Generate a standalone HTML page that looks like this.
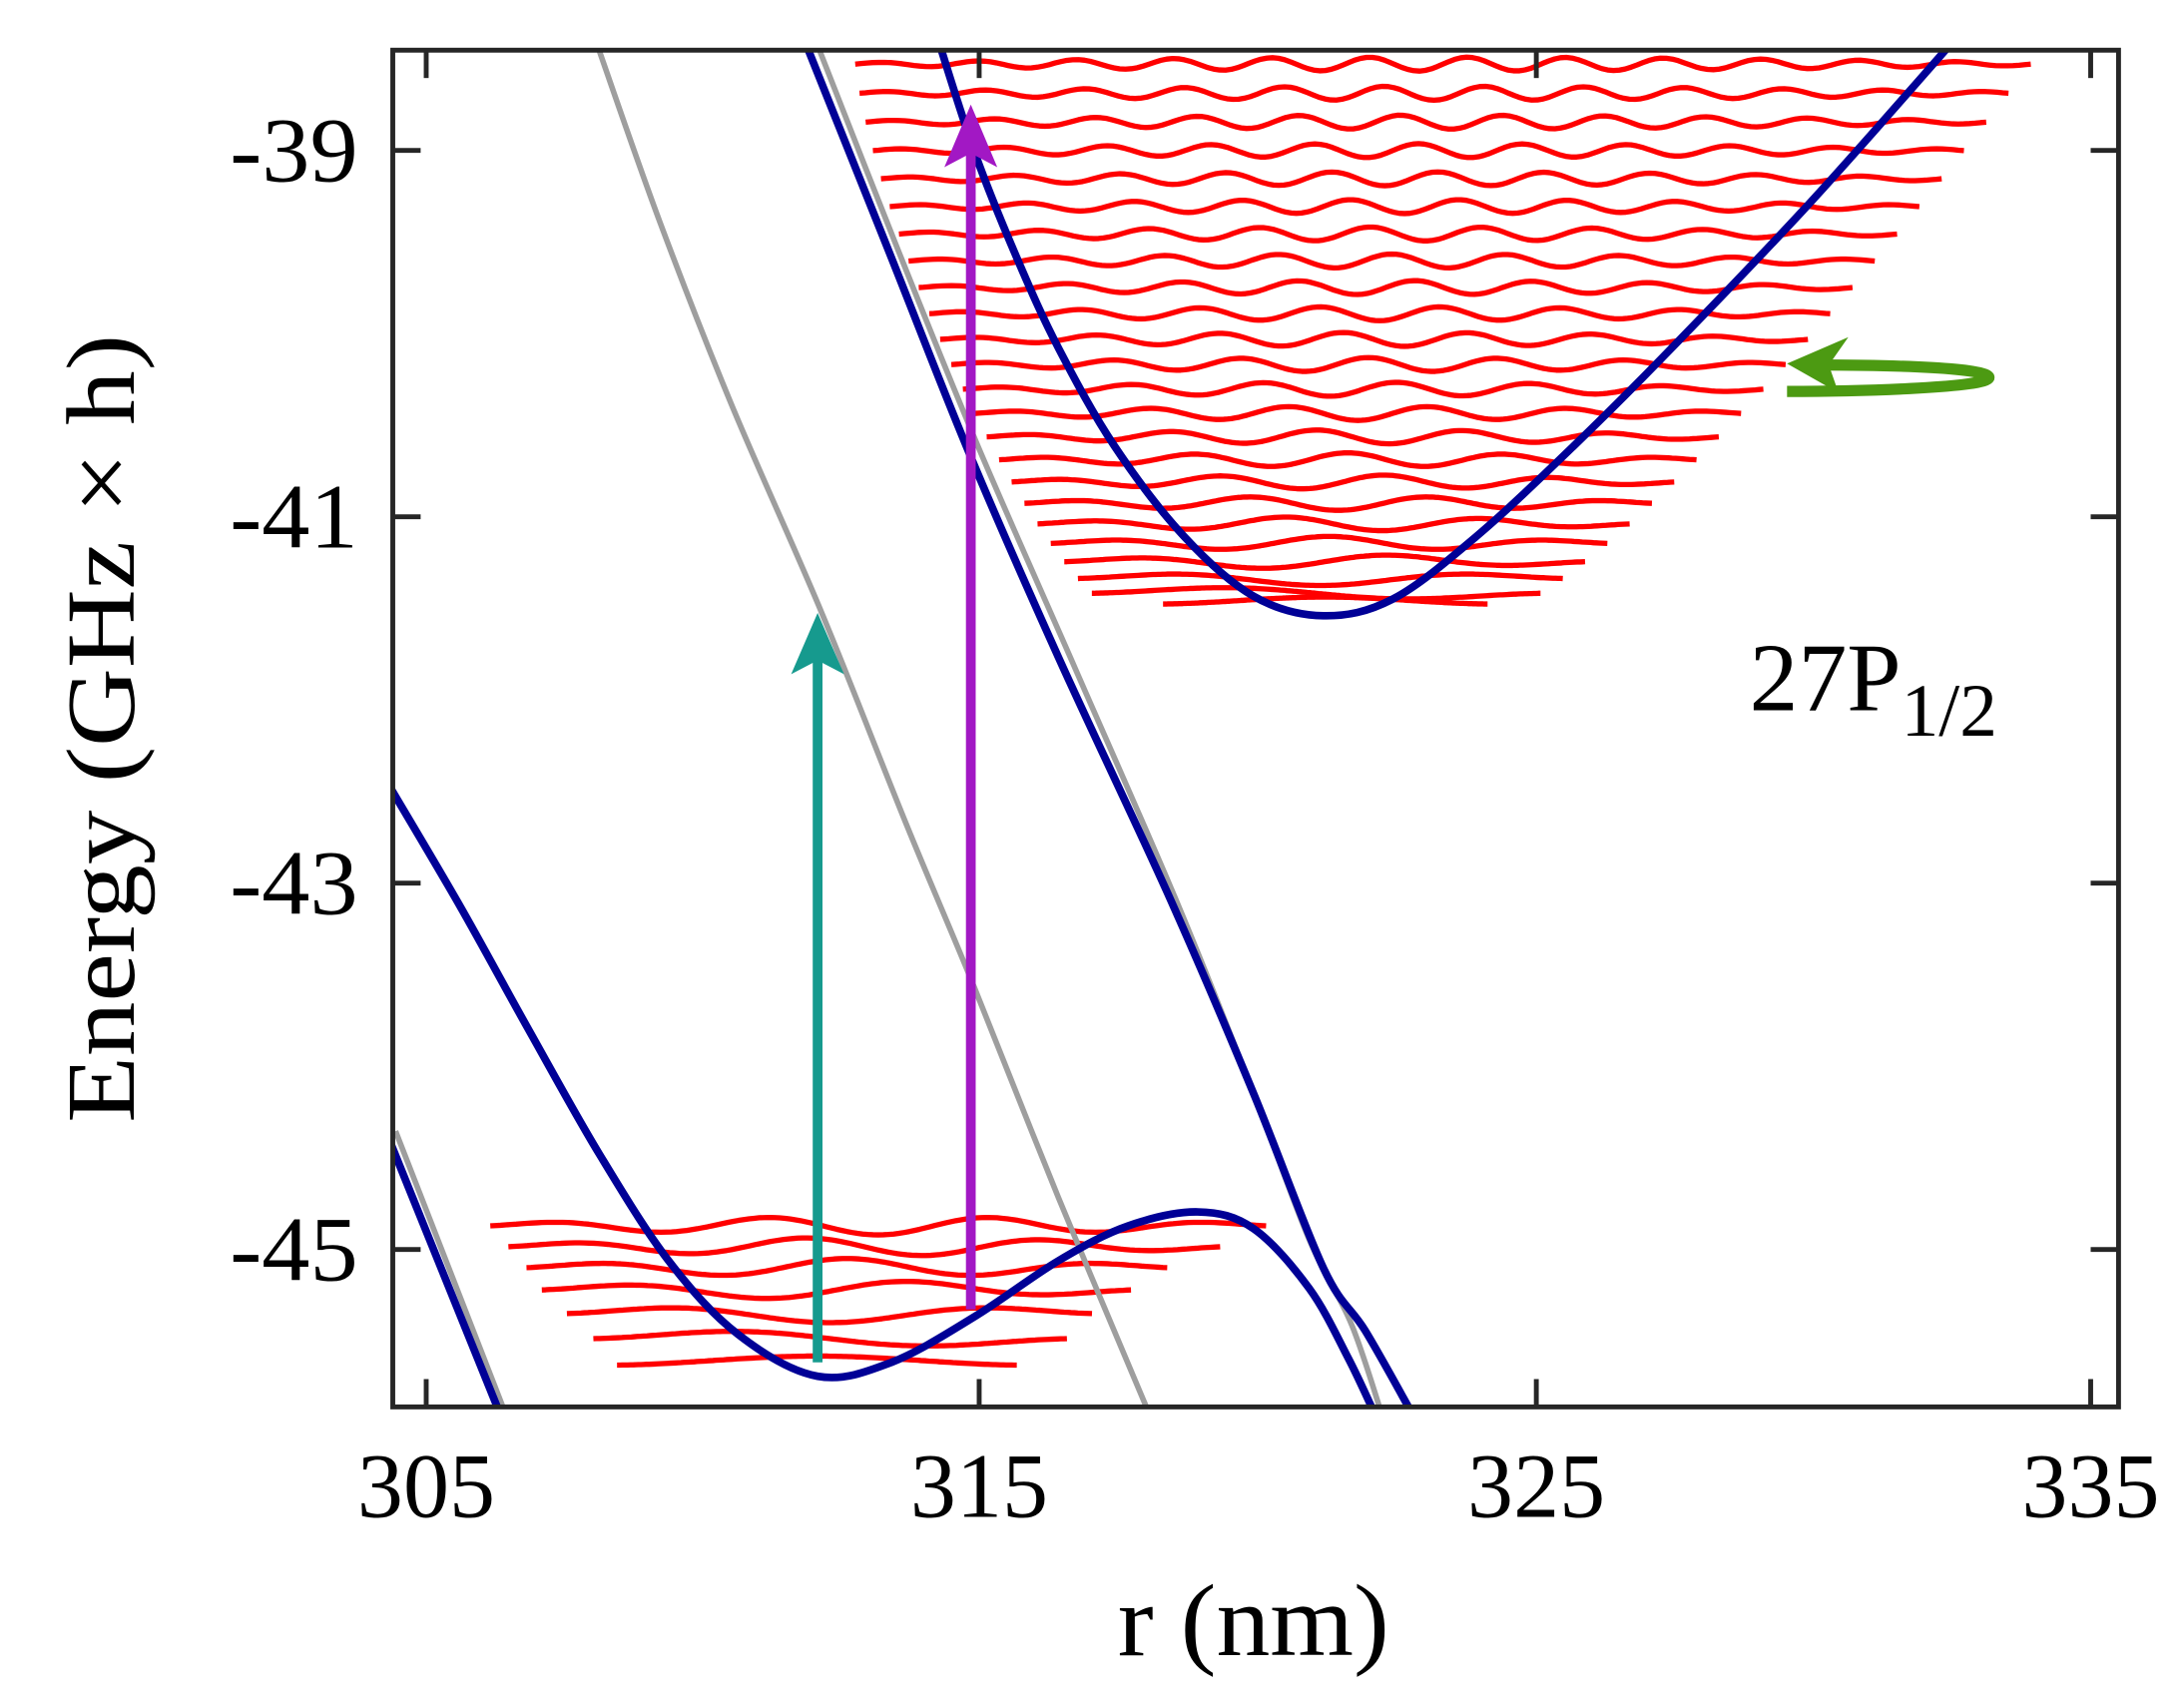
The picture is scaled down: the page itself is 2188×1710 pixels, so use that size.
<!DOCTYPE html>
<html><head><meta charset="utf-8"><style>
html,body{margin:0;padding:0;background:#fff}
svg{display:block}
text{font-family:"Liberation Serif","DejaVu Serif",serif;fill:#000}
</style></head><body>
<svg id="s" width="2188" height="1710" viewBox="0 0 1568 1225.4" xmlns="http://www.w3.org/2000/svg">
<defs><clipPath id="c"><rect x="282" y="36" width="1239" height="974"/></clipPath></defs>
<g id="plot" clip-path="url(#c)" fill="none" stroke-linecap="butt" stroke-linejoin="round"></g>
<rect x="282" y="36" width="1239" height="974" fill="none" stroke="#262626" stroke-width="3.5"/>
<g stroke="#262626" stroke-width="3.5">
<line x1="306" y1="1010" x2="306" y2="990"/><line x1="703" y1="1010" x2="703" y2="990"/><line x1="1103" y1="1010" x2="1103" y2="990"/><line x1="1501" y1="1010" x2="1501" y2="990"/>
<line x1="306" y1="36" x2="306" y2="56"/><line x1="703" y1="36" x2="703" y2="56"/><line x1="1103" y1="36" x2="1103" y2="56"/><line x1="1501" y1="36" x2="1501" y2="56"/>
<line x1="282" y1="108" x2="302" y2="108"/><line x1="282" y1="371" x2="302" y2="371"/><line x1="282" y1="634" x2="302" y2="634"/><line x1="282" y1="897" x2="302" y2="897"/>
<line x1="1521" y1="108" x2="1501" y2="108"/><line x1="1521" y1="371" x2="1501" y2="371"/><line x1="1521" y1="634" x2="1501" y2="634"/><line x1="1521" y1="897" x2="1501" y2="897"/>
</g>
<g font-size="66" text-anchor="end">
<text x="257" y="130" textLength="92" lengthAdjust="spacingAndGlyphs">-39</text><text x="257" y="393" textLength="92" lengthAdjust="spacingAndGlyphs">-41</text><text x="257" y="656" textLength="92" lengthAdjust="spacingAndGlyphs">-43</text><text x="257" y="919" textLength="92" lengthAdjust="spacingAndGlyphs">-45</text>
</g>
<g font-size="66" text-anchor="middle">
<text x="306" y="1089">305</text><text x="703" y="1089">315</text><text x="1103" y="1089">325</text><text x="1501" y="1089">335</text>
</g>
<text x="900" y="1188" font-size="74" text-anchor="middle" textLength="195" lengthAdjust="spacingAndGlyphs">r (nm)</text>
<text transform="translate(96,523) rotate(-90)" font-size="70" text-anchor="middle" textLength="566" lengthAdjust="spacingAndGlyphs">Energy (GHz × h)</text>
<text x="1256" y="510" font-size="70">27P<tspan font-size="54" dy="18">1/2</tspan></text>
</svg>
<script>
const g=document.getElementById('plot');const NS="http://www.w3.org/2000/svg";
function cr(p){let d="M"+p[0][0]+","+p[0][1];for(let i=0;i<p.length-1;i++){const a=p[Math.max(i-1,0)],b=p[i],c=p[i+1],e=p[Math.min(i+2,p.length-1)];
d+=" C"+(b[0]+(c[0]-a[0])/6).toFixed(1)+","+(b[1]+(c[1]-a[1])/6).toFixed(1)+" "+(c[0]-(e[0]-b[0])/6).toFixed(1)+","+(c[1]-(e[1]-b[1])/6).toFixed(1)+" "+c[0]+","+c[1];}return d;}
function path(d,col,w){const el=document.createElementNS(NS,'path');el.setAttribute('d',d);el.setAttribute('stroke',col);el.setAttribute('stroke-width',w);el.setAttribute('fill','none');g.appendChild(el);return el;}
const N=24;
for(let i=0;i<N;i++){const t=i/(N-1);
 const y=46+(433.6-46)*(1-Math.pow(1-t,1.25));
 const xl=614+(794-614)*Math.pow(t,1.3)+(i==N-1?41:0);
 const xr=1458-(1458-1090)*t-(i==N-1?22:0);
 const n=N-1-i; const L=xr-xl; let d="";
 for(let k=0;k<=200;k++){const x=xl+L*k/200;const u=k/200;const env=Math.sin(Math.PI*u)*0.8+0.2;
  const yy=y-5*env*Math.sin(Math.PI*(n+1)*u);d+=(k?"L":"M")+x.toFixed(1)+","+yy.toFixed(1);}
 path(d,"#ff0000",3.8);}
const ly=[880,895,910,926,943,961,980],ll=[352,365,378,389,407,426,443],lr=[909,876,838,812,784,766,730];
for(let i=0;i<7;i++){const n=6-i;const L=lr[i]-ll[i];let d="";
 for(let k=0;k<=150;k++){const u=k/150;const x=ll[i]+L*u;const env=Math.sin(Math.PI*u)*0.8+0.2;
  const yy=ly[i]-6.5*env*Math.sin(Math.PI*(n+1)*u);d+=(k?"L":"M")+x.toFixed(1)+","+yy.toFixed(1);}
 path(d,"#ff0000",3.8);}
path(cr([[428,30],[474,160],[525,290],[590,440],[650,590],[700,710],[760,860],[823,1010],[826,1020]]),"#9e9e9e",4);
path(cr([[586,30],[643,175],[702,320],[772,480],[846,650],[900,785],[940,890],[970,950],[992,1015]]),"#9e9e9e",4);
path("M284,812 L363,1015","#9e9e9e",4);
const B="#000096";
path(cr([[280,565],[330,650],[380,740],[430,828],[480,905],[530,958],[587,988],[640,978],[700,945],[760,905],[810,880],[860,870],[900,882],[940,925],[968,975],[987,1015]]),B,5.5);
path(cr([[578,30],[640,185],[697,328],[760,472],[840,645],[900,785],[950,910],[980,955],[1014,1015]]),B,5.5);
path("M281,822 L359,1015",B,5.5);
path(cr([[674,30],[700,110],[730,185],[760,250],[800,320],[850,385],[900,428],[950,442],[1000,430],[1060,385],[1130,320],[1200,250],[1300,145],[1402,30]]),B,5.5);
path("M587,978 L587,470","#169a8e",7);
path("M697,940 L697,110","#a218c4",7);
const p1=document.createElementNS(NS,'path');p1.setAttribute('d','M587,440 L606,484 L587,474 L568,484 Z');p1.setAttribute('fill','#169a8e');g.appendChild(p1);
const p2=document.createElementNS(NS,'path');p2.setAttribute('d','M697,75 L716,120 L697,110 L678,120 Z');p2.setAttribute('fill','#a218c4');g.appendChild(p2);
const gr="#4c9a12";
path("M1283,281 C1340,281 1428,278 1428,271 C1428,264 1360,262 1305,262",gr,8);
const p3=document.createElementNS(NS,'path');p3.setAttribute('d','M1283,261 L1327,242 L1313,262 L1320,282 Z');p3.setAttribute('fill',gr);g.appendChild(p3);
</script>
</body></html>
